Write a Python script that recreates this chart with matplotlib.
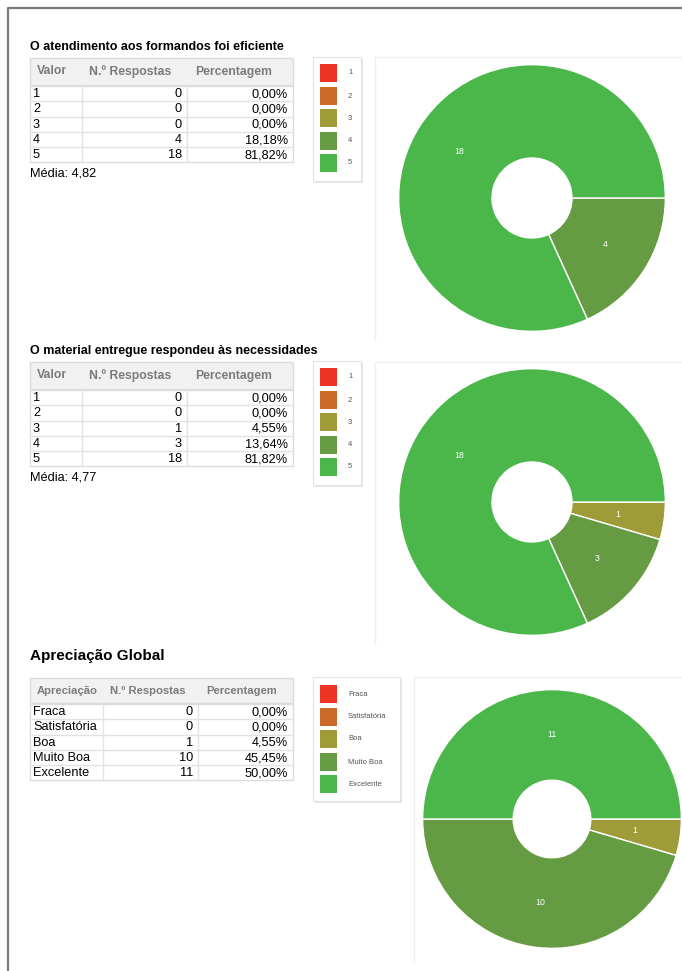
import matplotlib
matplotlib.use("Agg")
import matplotlib.pyplot as plt
import numpy as np
from matplotlib.patches import Rectangle

plt.rcParams['font.family'] = ['Liberation Sans', 'DejaVu Sans']

# data
colors = ['#EE3524', '#CC6A2A', '#9E9B38', '#659B42', '#4BB74A']

title1 = 'O atendimento aos formandos foi eficiente'
labels1 = ['1', '2', '3', '4', '5']
counts1 = [0, 0, 0, 4, 18]

title2 = 'O material entregue respondeu às necessidades'
labels2 = ['1', '2', '3', '4', '5']
counts2 = [0, 0, 1, 3, 18]

title3 = 'Apreciação Global'
labels3 = ['Fraca', 'Satisfatória', 'Boa', 'Muito Boa', 'Excelente']
counts3 = [0, 0, 1, 10, 11]

W, H = 682, 971
fig = plt.figure(figsize=(W / 100, H / 100), dpi=100)
bg = fig.add_axes([0, 0, 1, 1])
bg.set_xlim(0, W)
bg.set_ylim(H, 0)
bg.axis('off')

# page border
bg.plot([8, 8, W], [H, 8, 8], color='#7a7a7a', lw=1.6)


def pct(c, tot):
    return ('%.2f%%' % (100.0 * c / tot)).replace('.', ',')


def draw_table(top, cols, head, labels, counts, hfs, row_h=15.3, head_h=27):
    tot = sum(counts)
    bg.add_patch(Rectangle((cols[0], top), cols[-1] - cols[0], head_h,
                           facecolor='#f1f1f1', edgecolor='#dcdcdc', lw=1))
    xs = [cols[0] + 7, cols[1] + 7, cols[2] + 8]
    for x, t in zip(xs, head):
        bg.text(x, top + head_h / 2, t, fontsize=hfs, fontweight='bold',
                color='#7b7b7b', va='center', ha='left')
    y0 = top + head_h + 1
    n = len(labels)
    bg.add_patch(Rectangle((cols[0], y0), cols[-1] - cols[0], n * row_h,
                           facecolor='white', edgecolor='#dcdcdc', lw=1))
    for i in range(1, n):
        bg.plot([cols[0], cols[-1]], [y0 + i * row_h] * 2, color='#e2e2e2', lw=1)
    for c in cols[1:-1]:
        bg.plot([c, c], [y0, y0 + n * row_h], color='#e2e2e2', lw=1)
    for i, (lab, c) in enumerate(zip(labels, counts)):
        yc = y0 + (i + 0.5) * row_h + 0.5
        bg.text(cols[0] + 3, yc, lab, fontsize=9.2, va='center', ha='left')
        bg.text(cols[2] - 5, yc, str(c), fontsize=9.2, va='center', ha='right')
        bg.text(cols[3] - 5, yc, pct(c, tot), fontsize=9.2, va='center', ha='right')
    return y0 + n * row_h


def draw_legend(x, top, w, h, labels, ys, sw=18):
    bg.add_patch(Rectangle((x + 2, top + 2), w, h, facecolor='#e6e6e6', edgecolor='none'))
    bg.add_patch(Rectangle((x, top), w, h, facecolor='white', edgecolor='#e4e4e4', lw=0.8))
    for lab, col, y in zip(labels, colors, ys):
        bg.add_patch(Rectangle((x + 7, y), sw - 1, sw, facecolor=col, edgecolor='none'))
        bg.text(x + 35, y + sw / 2, lab, fontsize=5.5, color='#555555', va='center', ha='left')


def draw_pie(cx, cy, r, counts, panel):
    px0, py0, px1, py1 = panel
    bg.plot([px0, px0, px1], [py1, py0, py0], color='#eeeeee', lw=1)
    ax = fig.add_axes([(cx - r) / W, 1 - (cy + r) / H, 2 * r / W, 2 * r / H])
    wedges, _ = ax.pie(counts, colors=colors, startangle=0, counterclock=False,
                       radius=1, wedgeprops=dict(width=0.7, edgecolor='white', linewidth=1))
    ax.set_xlim(-1.005, 1.005)
    ax.set_ylim(-1.005, 1.005)
    for wdg, c in zip(wedges, counts):
        if c == 0:
            continue
        th = np.deg2rad((wdg.theta1 + wdg.theta2) / 2)
        ax.text(0.65 * np.cos(th), 0.65 * np.sin(th), str(c), color='white',
                fontsize=6.3, ha='center', va='center')


def media(labels, counts):
    m = sum(int(l) * c for l, c in zip(labels, counts)) / sum(counts)
    return ('Média: %.2f' % m).replace('.', ',')


# section 1
bg.text(30, 47, title1, fontsize=9.0, fontweight='bold', va='center')
end = draw_table(58, [30, 82, 187, 293], ['Valor', 'N.º Respostas', 'Percentagem'],
                 labels1, counts1, 8.8)
bg.text(30, end + 11, media(labels1, counts1), fontsize=9.2, va='center')
draw_legend(313, 57, 48, 124, labels1, [64, 87, 109, 132, 154])
draw_pie(532, 198, 134, counts1, (375, 57, W, 340))

# section 2
off = 304
bg.text(30, 47 + off, title2, fontsize=9.0, fontweight='bold', va='center')
end = draw_table(58 + off, [30, 82, 187, 293], ['Valor', 'N.º Respostas', 'Percentagem'],
                 labels2, counts2, 8.8)
bg.text(30, end + 11, media(labels2, counts2), fontsize=9.2, va='center')
draw_legend(313, 57 + off, 48, 124, labels2, [y + off for y in [64, 87, 109, 132, 154]])
draw_pie(532, 502, 134, counts2, (375, 362, W, 644))

# section 3
bg.text(30, 656, title3, fontsize=11, fontweight='bold', va='center')
draw_table(678, [30, 103, 198, 293], ['Apreciação', 'N.º Respostas', 'Percentagem'],
           labels3, counts3, 8.1, head_h=25)
draw_legend(313, 677, 87, 124, labels3, [685, 708, 730, 753, 775])
draw_pie(552, 819, 130, counts3, (414, 677, W, 960))

fig.savefig('out.png', dpi=100, facecolor='white')
